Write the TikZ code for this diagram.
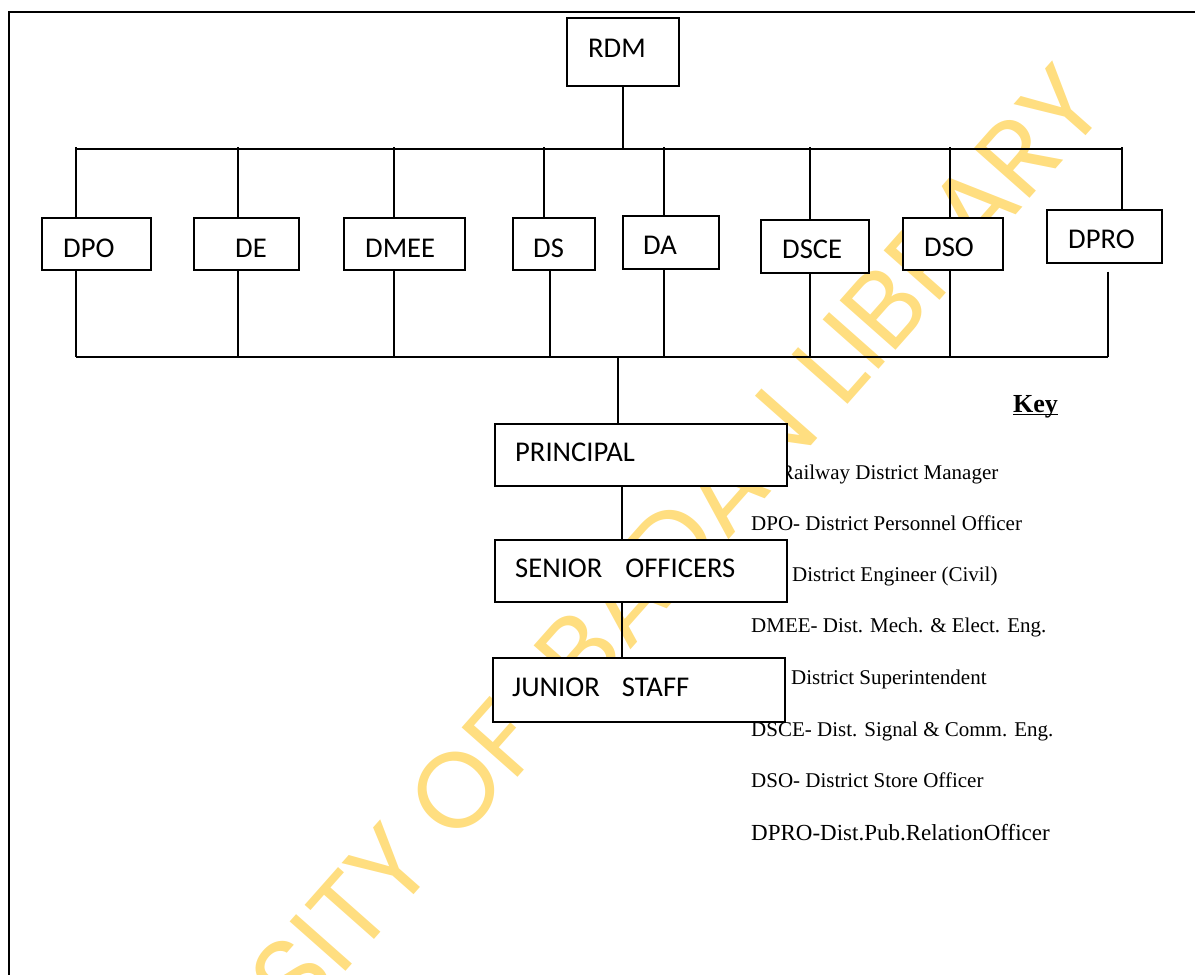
\documentclass[tikz,border=0pt]{standalone}
\usepackage{fontspec}
\setmainfont{Liberation Serif}
\newfontfamily\calibri{Carlito}
\newfontfamily\wmfont{Poppins}
\usetikzlibrary{calc}
\definecolor{wmyellow}{RGB}{255,222,128}
\tikzset{
  box/.style={draw=black, fill=white, line width=1.7pt, inner sep=0pt, anchor=north west},
  lbl/.style={font=\calibri\fontsize{28.6}{30}\selectfont, inner sep=0pt, anchor=base west},
  keytxt/.style={font=\fontsize{21}{24}\selectfont, inner sep=0pt, anchor=base west},
  keyhead/.style={font=\bfseries\fontsize{26}{28}\selectfont, inner sep=0pt, anchor=base west},
  conn/.style={line width=1.7pt},
  wm/.style={font=\wmfont\fontsize{107}{107}\selectfont, text=wmyellow, inner sep=0pt}
}
\newcommand\obox[5]{\node[box, minimum width={#4pt-#2pt}, minimum height={#5pt-#3pt}] (#1) at (#2,#3) {};}
\begin{document}
\begin{tikzpicture}[x=1pt,y=-1pt]
\useasboundingbox (0,0) rectangle (1195,975);
% watermark
\node[wm, rotate=48.5] (wm) at (555,679) {UNIVERSITY OF IBADAN LIBRARY};
% frame
\coordinate (fbl) at (9,980);
\coordinate (ftl) at (9,12);
\coordinate (ftr) at (1200,12);
\draw[conn] (fbl) -- (ftl) -- (ftr);
% bus coordinates
\coordinate (t1) at (76,149);
\coordinate (t2) at (238,149);
\coordinate (t3) at (394,149);
\coordinate (t4) at (544,149);
\coordinate (t5) at (664,149);
\coordinate (t6) at (810,149);
\coordinate (t7) at (950,149);
\coordinate (t8) at (1122,149);
\coordinate (b1) at (76,357);
\coordinate (b2) at (238,357);
\coordinate (b3) at (394,357);
\coordinate (b4) at (550,357);
\coordinate (b5) at (664,357);
\coordinate (b6) at (810,357);
\coordinate (b7) at (950,357);
\coordinate (b8) at (1108,357);
\coordinate (bp) at (618,357);
\coordinate (cx) at (622,0);
% key text (under the boxes)
\node[keyhead] (key) at (1013,412) {Key};
\draw[line width=1.5pt] ([yshift=-2.5pt]key.base west) -- ([yshift=-2.5pt]key.base east);
\node[keytxt] (k1) at (780,479) {Railway District Manager};
\node[keytxt] (k2) at (751,530) {DPO- District Personnel Officer};
\node[keytxt] (k3) at (792,581) {District Engineer (Civil)};
\node[keytxt] (k4) at (751,632) {DMEE- Dist. Mech. \& Elect. Eng.};
\node[keytxt] (k5) at (791,684) {District Superintendent};
\node[keytxt] (k6) at (751,736) {DSCE- Dist. Signal \& Comm. Eng.};
\node[keytxt] (k7) at (751,787) {DSO- District Store Officer};
\node[keytxt, font=\fontsize{23}{26}\selectfont] (k8) at (751,840) {DPRO-Dist.Pub.RelationOfficer};
% boxes
\obox{rdm}{566}{17}{678}{85}
\obox{dpo}{41}{217}{150}{269}
\obox{de}{193}{217}{298}{269}
\obox{dmee}{343}{217}{464}{269}
\obox{ds}{512}{217}{594}{269}
\obox{da}{622}{215}{718}{268}
\obox{dsce}{760}{219}{868}{272}
\obox{dso}{902}{217}{1002}{269}
\obox{dpro}{1046}{209}{1161}{262}
\obox{principal}{494}{423}{786}{485}
\obox{senior}{494}{539}{786}{601}
\obox{junior}{492}{657}{784}{721}
% labels
\node[lbl] (rdm-t) at (588,57) {RDM};
\node[lbl] (dpo-t) at (63,257) {DPO};
\node[lbl] (de-t) at (235,257) {DE};
\node[lbl] (dmee-t) at (365,257) {DMEE};
\node[lbl] (ds-t) at (533,257) {DS};
\node[lbl] (da-t) at (643,254) {DA};
\node[lbl] (dsce-t) at (782,258) {DSCE};
\node[lbl] (dso-t) at (924,256) {DSO};
\node[lbl] (dpro-t) at (1068,248) {DPRO};
\node[lbl] (principal-t) at (515,461) {PRINCIPAL};
\node[lbl] (senior-t) at (515,577) {SENIOR\hspace{23pt}OFFICERS};
\node[lbl] (junior-t) at (512,696) {JUNIOR\hspace{22pt}STAFF};
% connectors
\draw[conn] (rdm.south) -- (rdm.south |- t1);
\draw[conn] (t1) -- (t8);
\draw[conn] ([yshift=2pt]t1) -- (t1 |- dpo.north);
\draw[conn] ([yshift=2pt]t2) -- (t2 |- de.north);
\draw[conn] ([yshift=2pt]t3) -- (t3 |- dmee.north);
\draw[conn] ([yshift=2pt]t4) -- (t4 |- ds.north);
\draw[conn] ([yshift=2pt]t5) -- (t5 |- da.north);
\draw[conn] ([yshift=2pt]t6) -- (t6 |- dsce.north);
\draw[conn] ([yshift=2pt]t7) -- (t7 |- dso.north);
\draw[conn] ([yshift=2pt]t8) -- (t8 |- dpro.north);
\draw[conn] (b1 |- dpo.south) -- (b1);
\draw[conn] (b2 |- de.south) -- (b2);
\draw[conn] (b3 |- dmee.south) -- (b3);
\draw[conn] (b4 |- ds.south) -- (b4);
\draw[conn] (b5 |- da.south) -- (b5);
\draw[conn] (b6 |- dsce.south) -- (b6);
\draw[conn] (b7 |- dso.south) -- (b7);
\draw[conn, shorten <=8pt] (b8 |- dpro.south) -- (b8);
\draw[conn] (b1) -- (b8);
\draw[conn] (bp) -- (bp |- principal.north);
\draw[conn] (cx |- principal.south) -- (cx |- senior.north);
\draw[conn] (cx |- senior.south) -- (cx |- junior.north);
\end{tikzpicture}
\end{document}
